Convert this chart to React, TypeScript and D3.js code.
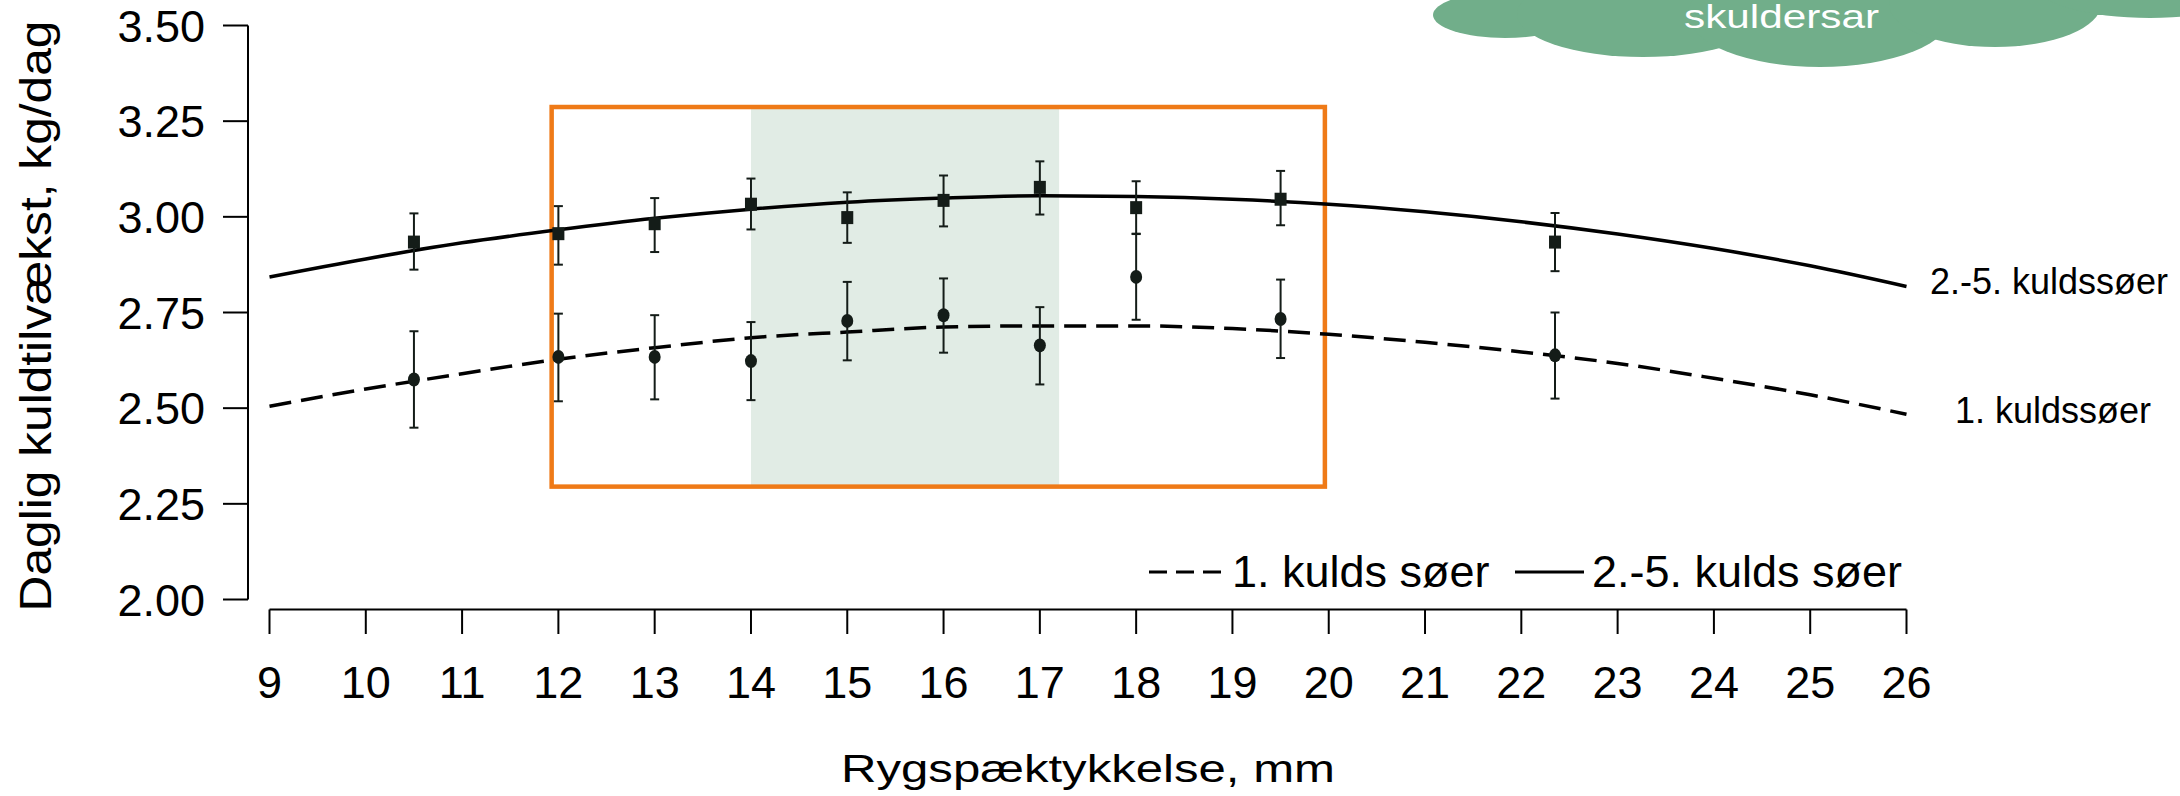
import React from 'react';
import * as d3 from 'd3';

// Rygspæktykkelse (mm) ved kurvens støttepunkter
const curveX = [9, 10, 11, 12, 13, 14, 15, 16, 17, 18, 19, 20, 21, 22, 23, 24, 25, 26];
const curveFirst = [2.505, 2.55, 2.59, 2.628, 2.658, 2.684, 2.699, 2.712, 2.715, 2.715, 2.708, 2.693, 2.672, 2.647, 2.617, 2.578, 2.535, 2.484];
const curveLater = [2.843, 2.89, 2.932, 2.966, 2.996, 3.02, 3.038, 3.049, 3.055, 3.053, 3.046, 3.033, 3.013, 2.987, 2.955, 2.917, 2.872, 2.818];

// målte gennemsnit med spredning
const pointX = [10.5, 12, 13, 14, 15, 16, 17, 18, 19.5, 22.35];
const firstMean = [2.575, 2.634, 2.634, 2.623, 2.728, 2.743, 2.664, 2.843, 2.733, 2.638];
const firstLow = [2.449, 2.518, 2.523, 2.521, 2.625, 2.645, 2.562, 2.731, 2.631, 2.525];
const firstHigh = [2.701, 2.747, 2.743, 2.725, 2.83, 2.839, 2.764, 2.955, 2.836, 2.75];
const laterMean = [2.934, 2.956, 2.982, 3.033, 2.998, 3.043, 3.077, 3.024, 3.046, 2.934];
const laterLow = [2.862, 2.875, 2.908, 2.967, 2.932, 2.975, 3.006, 2.956, 2.978, 2.858];
const laterHigh = [3.009, 3.028, 3.049, 3.1, 3.064, 3.108, 3.145, 3.093, 3.12, 3.01];

const xTicks = [9, 10, 11, 12, 13, 14, 15, 16, 17, 18, 19, 20, 21, 22, 23, 24, 25, 26];
const yTicks = [2.0, 2.25, 2.5, 2.75, 3.0, 3.25, 3.5];

// markerede områder
const shadeRange = [14, 17.2];
const boxRange = [11.93, 19.96];
const boxLevels = [2.295, 3.287];

const FONT = '"Liberation Sans", Arial, Helvetica, sans-serif';
const INK = '#141c18';

const App = () => {
  const width = 2180;
  const height = 796;

  const x = d3.scaleLinear().domain([9, 26]).range([269.5, 1906.5]);
  const y = d3.scaleLinear().domain([2, 3.5]).range([599.5, 25.5]);

  const line = d3.line<number>()
    .x((d, i) => x(curveX[i]))
    .y(d => y(d))
    .curve(d3.curveMonotoneX);

  const axisY = 248;
  const axisX = 609.5;

  return (
    <div style={{ position: 'fixed', left: 0, top: 0, width, height, background: '#fff' }}>
      <svg width={width} height={height} style={{ display: 'block' }} fontFamily={FONT}>
        {/* sky oppe i hjørnet */}
        <g fill="#71ae8a">
          <rect x={1470} y={-60} width={720} height={75} />
          <ellipse cx={1505} cy={15} rx={72} ry={23} />
          <ellipse cx={1643} cy={14} rx={126} ry={43} />
          <ellipse cx={1820} cy={14} rx={132} ry={53} />
          <ellipse cx={1995} cy={4} rx={106} ry={43} />
          <ellipse cx={2150} cy={-16} rx={115} ry={34} />
        </g>
        <text x={1684} y={28} fill="#fff" fontSize={34} textLength={195} lengthAdjust="spacingAndGlyphs">skuldersar</text>

        {/* skraveret interval og orange ramme */}
        <rect
          x={x(shadeRange[0])}
          y={y(boxLevels[1])}
          width={x(shadeRange[1]) - x(shadeRange[0])}
          height={y(boxLevels[0]) - y(boxLevels[1])}
          fill="#e1ece5"
        />
        <rect
          x={x(boxRange[0])}
          y={y(boxLevels[1])}
          width={x(boxRange[1]) - x(boxRange[0])}
          height={y(boxLevels[0]) - y(boxLevels[1])}
          fill="none"
          stroke="#ef7a17"
          strokeWidth={4.5}
        />

        {/* kurver */}
        <path d={line(curveLater) || ''} fill="none" stroke="#000" strokeWidth={3.5} />
        <path d={line(curveFirst) || ''} fill="none" stroke="#000" strokeWidth={3.5} strokeDasharray="22 10" />

        {/* fejlsøjler */}
        {pointX.map((px, i) => (
          <g key={'e' + i} stroke={INK} strokeWidth={2}>
            {[[laterLow[i], laterHigh[i]], [firstLow[i], firstHigh[i]]].map(([lo, hi], j) => (
              <g key={j}>
                <line x1={x(px)} x2={x(px)} y1={y(lo)} y2={y(hi)} />
                <line x1={x(px) - 4.5} x2={x(px) + 4.5} y1={y(lo)} y2={y(lo)} />
                <line x1={x(px) - 4.5} x2={x(px) + 4.5} y1={y(hi)} y2={y(hi)} />
              </g>
            ))}
          </g>
        ))}

        {/* punkter */}
        {pointX.map((px, i) => (
          <g key={'p' + i} fill={INK}>
            <rect x={x(px) - 6} y={y(laterMean[i]) - 6.5} width={12} height={13} />
            <ellipse cx={x(px)} cy={y(firstMean[i])} rx={6} ry={7} />
          </g>
        ))}

        {/* y-akse */}
        <g stroke="#000" strokeWidth={2}>
          <line x1={axisY} x2={axisY} y1={y(2)} y2={y(3.5)} />
          {yTicks.map(t => (
            <line key={t} x1={axisY - 25} x2={axisY} y1={y(t)} y2={y(t)} />
          ))}
        </g>
        {yTicks.map(t => (
          <text key={'yl' + t} x={205} y={y(t)} dy="0.36em" textAnchor="end" fontSize={45} fill="#000">
            {d3.format('.2f')(t)}
          </text>
        ))}

        {/* x-akse */}
        <g stroke="#000" strokeWidth={2}>
          <line x1={x(9)} x2={x(26)} y1={axisX} y2={axisX} />
          {xTicks.map(t => (
            <line key={t} x1={x(t)} x2={x(t)} y1={axisX} y2={634} />
          ))}
        </g>
        {xTicks.map(t => (
          <text key={'xl' + t} x={x(t)} y={698} textAnchor="middle" fontSize={45} fill="#000">
            {t}
          </text>
        ))}

        {/* aksetitler */}
        <text x={1088} y={782} textAnchor="middle" fontSize={39} textLength={494} lengthAdjust="spacingAndGlyphs" fill="#000">
          Rygspæktykkelse, mm
        </text>
        <text
          transform="translate(51,316) rotate(-90)"
          textAnchor="middle"
          fontSize={45}
          textLength={591}
          lengthAdjust="spacingAndGlyphs"
          fill="#000"
        >
          Daglig kuldtilvækst, kg/dag
        </text>

        {/* etiketter ved kurveenderne */}
        <text x={1930} y={294} fontSize={36} fill="#000">2.-5. kuldssøer</text>
        <text x={1955} y={423} fontSize={36} fill="#000">1. kuldssøer</text>

        {/* forklaring */}
        <line x1={1149} x2={1221} y1={572} y2={572} stroke="#000" strokeWidth={3} strokeDasharray="18 9" />
        <text x={1232} y={587} fontSize={45} fill="#000">1. kulds søer</text>
        <line x1={1515} x2={1584} y1={572} y2={572} stroke="#000" strokeWidth={3} />
        <text x={1592} y={587} fontSize={45} fill="#000">2.-5. kulds søer</text>
      </svg>
    </div>
  );
};

export default App;
